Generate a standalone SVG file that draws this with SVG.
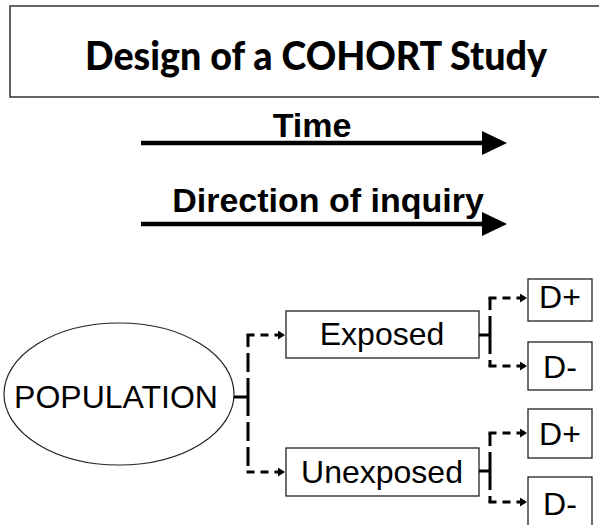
<svg xmlns="http://www.w3.org/2000/svg" width="599" height="525" viewBox="0 0 599 525">
<style>
.box{fill:#fff;stroke:#222;stroke-width:1.3}
.lbl{font-family:"Liberation Sans",Arial,sans-serif;font-size:32px;fill:#000;text-anchor:middle}
.hdr{font-family:"Liberation Sans",Arial,sans-serif;font-size:34px;font-weight:bold;fill:#000;text-anchor:middle}
.dv{fill:none;stroke:#000;stroke-width:3;stroke-dasharray:19 6}
.dh{fill:none;stroke:#000;stroke-width:3;stroke-dasharray:8 6}
.sol{fill:none;stroke:#000;stroke-width:3}
.big{stroke:#000;stroke-width:4.5}
</style>
<defs>
<marker id="ah" markerWidth="8" markerHeight="9" refX="7" refY="4.5" orient="auto" markerUnits="userSpaceOnUse">
<path d="M0,0 L7,4.5 L0,9 Z" fill="#000"/>
</marker>
</defs>
<rect width="599" height="525" fill="#fff"/>
<g id="title">
<rect x="10" y="6" width="620" height="91" fill="#fff" stroke="#333" stroke-width="1.5"/>
<text x="316" y="70" font-family="Lato,'Open Sans',sans-serif" font-weight="900" font-size="40" text-anchor="middle" textLength="462" lengthAdjust="spacingAndGlyphs">Design of a COHORT Study</text>
</g>
<g id="time-arrow">
<text class="hdr" x="312" y="137">Time</text>
<line class="big" x1="141" y1="143" x2="484" y2="143"/>
<polygon points="482,131 507,143 482,155" fill="#000"/>
</g>
<g id="inquiry-arrow">
<text class="hdr" x="328" y="212">Direction of inquiry</text>
<line class="big" x1="141" y1="224" x2="484" y2="224"/>
<polygon points="482,212 507,224 482,236" fill="#000"/>
</g>
<g id="population">
<ellipse cx="119" cy="394" rx="115" ry="71" fill="#fff" stroke="#222" stroke-width="1.2"/>
<text class="lbl" x="116" y="408">POPULATION</text>
</g>
<g id="exposed">
<rect class="box" x="286" y="311" width="193" height="47"/>
<text class="lbl" x="382" y="345">Exposed</text>
</g>
<g id="unexposed">
<rect class="box" x="286" y="448" width="193" height="48"/>
<text class="lbl" x="382" y="483">Unexposed</text>
</g>
<g id="exp-dplus">
<rect class="box" x="528" y="279" width="64" height="42"/>
<text class="lbl" x="560" y="308">D+</text>
</g>
<g id="exp-dminus">
<rect class="box" x="528" y="342" width="64" height="48"/>
<text class="lbl" x="560" y="378">D-</text>
</g>
<g id="unexp-dplus">
<rect class="box" x="528" y="409" width="64" height="49"/>
<text class="lbl" x="560" y="445">D+</text>
</g>
<g id="unexp-dminus">
<rect class="box" x="528" y="477" width="64" height="60"/>
<text class="lbl" x="560" y="515">D-</text>
</g>
<g id="connectors">
<line class="sol" x1="234" y1="397" x2="249" y2="397"/>
<line class="dv" x1="248" y1="397" x2="248" y2="335"/>
<line class="dv" x1="248" y1="397" x2="248" y2="472"/>
<path class="dh" d="M246.5,335 H285" marker-end="url(#ah)"/>
<path class="dh" d="M246.5,472 H285" marker-end="url(#ah)"/>
<line class="sol" x1="479" y1="335" x2="491" y2="335"/>
<line class="dv" x1="490" y1="335" x2="490" y2="298"/>
<line class="dv" x1="490" y1="335" x2="490" y2="366"/>
<path class="dh" d="M488.5,298 H527" marker-end="url(#ah)"/>
<path class="dh" d="M488.5,366 H527" marker-end="url(#ah)"/>
<line class="sol" x1="479" y1="471" x2="491" y2="471"/>
<line class="dv" x1="490" y1="471" x2="490" y2="433"/>
<line class="dv" x1="490" y1="471" x2="490" y2="502"/>
<path class="dh" d="M488.5,433 H527" marker-end="url(#ah)"/>
<path class="dh" d="M488.5,502 H527" marker-end="url(#ah)"/>
</g>
</svg>
